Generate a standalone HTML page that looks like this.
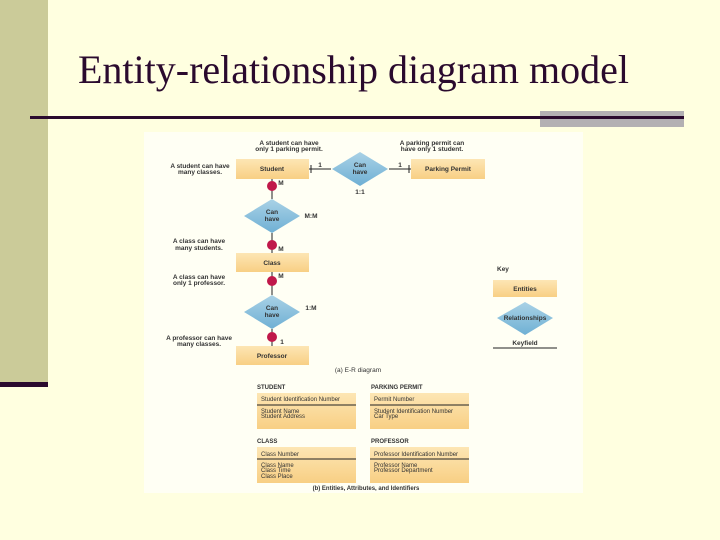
<!DOCTYPE html>
<html><head><meta charset="utf-8"><style>
body{margin:0;width:720px;height:540px;background:#ffffe0;overflow:hidden;position:relative;font-family:"Liberation Sans",sans-serif}
</style></head><body>
<svg width="720" height="540" viewBox="0 0 720 540" xmlns="http://www.w3.org/2000/svg" style="position:absolute;left:0;top:0">
<defs>
<linearGradient id="ent" x1="0" y1="0" x2="0" y2="1"><stop offset="0" stop-color="#fde6b4"/><stop offset="1" stop-color="#f8cf84"/></linearGradient>
<linearGradient id="rel" x1="0" y1="0" x2="0" y2="1"><stop offset="0" stop-color="#a9d2e6"/><stop offset="1" stop-color="#6fb0d4"/></linearGradient>
</defs>
<rect x="0" y="0" width="720" height="540" fill="#ffffe0"/>
<rect x="0" y="0" width="48" height="382" fill="#cbcb99"/>
<rect x="0" y="382" width="48" height="5" fill="#2a0a2e"/>
<text x="78" y="83" font-family="Liberation Serif,serif" font-size="40" fill="#2a0a2e">Entity-relationship diagram model</text>
<rect x="540" y="111" width="144" height="16" fill="#b3b0b3"/>
<rect x="30" y="116" width="654" height="3" fill="#2a0a2e"/>
<rect x="144" y="132" width="439" height="361" fill="#fffff4"/>

<g font-size="6.5" fill="#333" text-anchor="middle" font-weight="bold">
<g stroke="#222" stroke-width="1">
<line x1="309" y1="169" x2="331" y2="169"/><line x1="311" y1="165" x2="311" y2="173"/>
<line x1="389" y1="169" x2="411" y2="169"/><line x1="409" y1="165" x2="409" y2="173"/>
<line x1="272" y1="179" x2="272" y2="199"/>
<line x1="272" y1="233" x2="272" y2="253"/>
<line x1="272" y1="272" x2="272" y2="295"/>
<line x1="272" y1="329" x2="272" y2="346"/>
<line x1="493" y1="348" x2="557" y2="348"/>
</g>
<g fill="#c0184a">
<circle cx="272" cy="186" r="5"/><circle cx="272" cy="245" r="5"/><circle cx="272" cy="281" r="5"/><circle cx="272" cy="337" r="5"/>
</g>
<rect x="236" y="159" width="73" height="20" fill="url(#ent)"/><text x="272" y="171">Student</text>
<rect x="411" y="159" width="74" height="20" fill="url(#ent)"/><text x="448" y="171">Parking Permit</text>
<rect x="236" y="253" width="73" height="19" fill="url(#ent)"/><text x="272" y="265">Class</text>
<rect x="236" y="346" width="73" height="19" fill="url(#ent)"/><text x="272" y="358">Professor</text>
<rect x="493" y="280" width="64" height="17" fill="url(#ent)"/><text x="525" y="291">Entities</text>
<polygon points="360,152 388,169 360,186 332,169" fill="url(#rel)"/><text x="360" y="167">Can</text><text x="360" y="174">have</text>
<polygon points="272,199 300,216 272,233 244,216" fill="url(#rel)"/><text x="272" y="214">Can</text><text x="272" y="221">have</text>
<polygon points="272,295 300,312 272,329 244,312" fill="url(#rel)"/><text x="272" y="310">Can</text><text x="272" y="317">have</text>
<polygon points="525,302 553,318 525,335 497,318" fill="url(#rel)"/><text x="525" y="320">Relationships</text>
<text x="525" y="345">Keyfield</text>
<text x="497" y="271" text-anchor="start">Key</text>
<text x="289" y="145">A student can have</text><text x="289" y="151">only 1 parking permit.</text>
<text x="432" y="145">A parking permit can</text><text x="432" y="151">have only 1 student.</text>
<text x="200" y="168">A student can have</text><text x="200" y="174">many classes.</text>
<text x="199" y="243">A class can have</text><text x="199" y="250">many students.</text>
<text x="199" y="279">A class can have</text><text x="199" y="285">only 1 professor.</text>
<text x="199" y="340">A professor can have</text><text x="199" y="346">many classes.</text>
<text x="320" y="167">1</text><text x="400" y="167">1</text><text x="360" y="194">1:1</text>
<text x="281" y="185">M</text><text x="311" y="218">M:M</text>
<text x="281" y="251">M</text><text x="281" y="278">M</text><text x="311" y="310">1:M</text>
<text x="282" y="344">1</text>
<text x="358" y="372" font-weight="normal">(a) E-R diagram</text>
</g>
<g font-size="6" fill="#333">
<rect x="257" y="393" width="99" height="36" fill="url(#ent)"/><line x1="257" y1="405" x2="356" y2="405" stroke="#222"/>
<rect x="370" y="393" width="99" height="36" fill="url(#ent)"/><line x1="370" y1="405" x2="469" y2="405" stroke="#222"/>
<rect x="257" y="447" width="99" height="36" fill="url(#ent)"/><line x1="257" y1="459" x2="356" y2="459" stroke="#222"/>
<rect x="370" y="447" width="99" height="36" fill="url(#ent)"/><line x1="370" y1="459" x2="469" y2="459" stroke="#222"/>
<g font-weight="bold">
<text x="257" y="389">STUDENT</text><text x="371" y="389">PARKING PERMIT</text>
<text x="257" y="443">CLASS</text><text x="371" y="443">PROFESSOR</text>
</g>
<text x="261" y="401">Student Identification Number</text>
<text x="261" y="413">Student Name</text><text x="261" y="418">Student Address</text>
<text x="374" y="401">Permit Number</text>
<text x="374" y="413">Student Identification Number</text><text x="374" y="418">Car Type</text>
<text x="261" y="456">Class Number</text>
<text x="261" y="467">Class Name</text><text x="261" y="472">Class Time</text><text x="261" y="478">Class Place</text>
<text x="374" y="456">Professor Identification Number</text>
<text x="374" y="467">Professor Name</text><text x="374" y="472">Professor Department</text>
<text x="366" y="490" text-anchor="middle" font-weight="bold">(b) Entities, Attributes, and Identifiers</text>
</g>
</svg>
</body></html>
